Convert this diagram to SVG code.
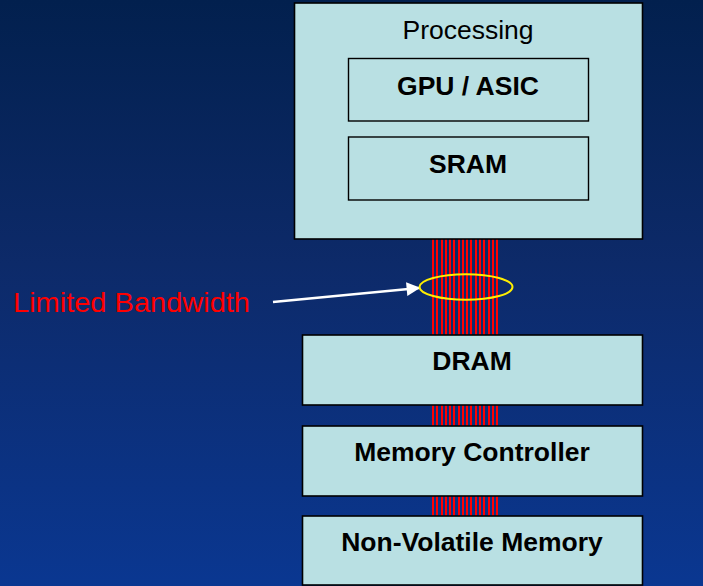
<svg xmlns="http://www.w3.org/2000/svg" width="703" height="586" viewBox="0 0 703 586">
<defs>
<linearGradient id="bg" x1="0" y1="0" x2="0" y2="1">
<stop offset="0" stop-color="#02204e"/>
<stop offset="0.45" stop-color="#0d2a69"/>
<stop offset="1" stop-color="#0a3791"/>
</linearGradient>
<marker id="arrow" viewBox="0 0 10 10" refX="9" refY="5" markerWidth="6" markerHeight="5.5" markerUnits="strokeWidth" orient="auto">
<path d="M0,0 L10,5 L0,10 z" fill="#ffffff"/>
</marker>
</defs>
<style>
.box{fill:#b9e0e3;stroke:#000;stroke-width:1.6}
.inner{fill:#b9e0e3;stroke:#000;stroke-width:1.4}
.t{font-family:"Liberation Sans",Arial,sans-serif;font-size:26.5px;fill:#000;text-anchor:middle}
.b{font-weight:bold}
.wire{stroke:#ff0000;stroke-width:2}
</style>
<rect x="0" y="0" width="703" height="586" fill="url(#bg)"/>
<g id="connectors">
<g id="bus">
<line class="wire" x1="433" y1="239" x2="433" y2="516"/>
<line class="wire" x1="437" y1="239" x2="437" y2="516"/>
<line class="wire" x1="442" y1="239" x2="442" y2="516"/>
<line class="wire" x1="446" y1="239" x2="446" y2="516"/>
<line class="wire" x1="450" y1="239" x2="450" y2="516"/>
<line class="wire" x1="454" y1="239" x2="454" y2="516"/>
<line class="wire" x1="459" y1="239" x2="459" y2="516"/>
<line class="wire" x1="463" y1="239" x2="463" y2="516"/>
<line class="wire" x1="467" y1="239" x2="467" y2="516"/>
<line class="wire" x1="471" y1="239" x2="471" y2="516"/>
<line class="wire" x1="476" y1="239" x2="476" y2="516"/>
<line class="wire" x1="480" y1="239" x2="480" y2="516"/>
<line class="wire" x1="484" y1="239" x2="484" y2="516"/>
<line class="wire" x1="489" y1="239" x2="489" y2="516"/>
<line class="wire" x1="493" y1="239" x2="493" y2="516"/>
<line class="wire" x1="497" y1="239" x2="497" y2="516"/>
</g>
<line x1="273" y1="302" x2="419" y2="288" stroke="#ffffff" stroke-width="2.5" marker-end="url(#arrow)"/>
</g>
<g id="processing">
<rect class="box" x="294.5" y="3" width="348" height="236"/>
<text class="t" x="468" y="39">Processing</text>
</g>
<g id="gpu">
<rect class="inner" x="348.5" y="58.5" width="240" height="62.5"/>
<text class="t b" x="468" y="95">GPU / ASIC</text>
</g>
<g id="sram">
<rect class="inner" x="348.5" y="137" width="240" height="63"/>
<text class="t b" x="468" y="173">SRAM</text>
</g>
<g id="bandwidth">
<ellipse cx="466" cy="287" rx="46.5" ry="12.8" fill="none" stroke="#ffee00" stroke-width="2"/>
<text x="13" y="312" font-family="Liberation Sans,Arial,sans-serif" font-size="28" fill="#ff0000" textLength="237" lengthAdjust="spacingAndGlyphs">Limited Bandwidth</text>
</g>
<g id="dram">
<rect class="box" x="302.5" y="335" width="340" height="70"/>
<text class="t b" x="472" y="370">DRAM</text>
</g>
<g id="memctrl">
<rect class="box" x="302.5" y="426" width="340" height="70"/>
<text class="t b" x="472" y="461">Memory Controller</text>
</g>
<g id="nvm">
<rect class="box" x="302.5" y="516" width="340" height="69"/>
<text class="t b" x="472" y="551">Non-Volatile Memory</text>
</g>
</svg>
